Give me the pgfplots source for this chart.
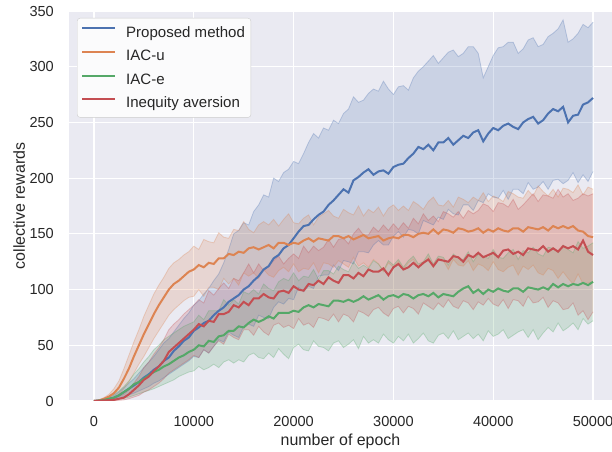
\documentclass[border=0pt]{standalone}
\usepackage{pgfplots}
\pgfplotsset{compat=1.18}
\usepackage{pgfplotstable}
\usepgfplotslibrary{fillbetween}
\usepackage{fontspec}
\setmainfont{Liberation Sans}
\definecolor{sbblue}{HTML}{4C72B0}
\definecolor{sborange}{HTML}{DD8452}
\definecolor{sbgreen}{HTML}{55A868}
\definecolor{sbred}{HTML}{C44E52}
\definecolor{bgc}{HTML}{EAEAF2}
\definecolor{tickc}{HTML}{262626}
\definecolor{legbg}{HTML}{FBFBFC}
\definecolor{legborder}{HTML}{CCCCCC}

\pgfplotstableread{
x m lo hi
0 0 0 0
500 0.5 0.2 1
1000 1 0.5 2
1500 2 1 3.5
2000 3 1.5 5
2500 5 2.5 8
3000 8 4 12
3500 11 5.5 16
4000 14 7 20
4500 17 9 25
5000 21 11 30
5500 24 13 35
6000 28 16 40
6500 31 18 46
7000 36 21 52
7500 39 24 56
8000 45 27 62
8500 49 30 68
9000 54 33 74
9500 57 36 79
10000 63 40 86
10500 66 39 90
11000 70 46 96
11500 72 43 101
12000 77 49 108
12500 81 55 114
13000 84 53 124
13500 89 62 136
14000 92 59 150
14500 95 57 153
15000 100 67 160
15500 103 69 158
16000 108 67 170
16500 112 77 176
17000 118 75 185
17500 121 74 183
18000 128 84 200
18500 131 89 197
19000 137 87 205
19500 140 92 208
20000 146 91 215
20500 152 102 213
21000 157 98 222
21500 158 103 232
22000 163 101 240
22500 167 112 236
23000 170 113 245
23500 176 113 243
24000 180 122 252
24500 185 117 249
25000 190 126 258
25500 187 125 262
26000 198 123 273
26500 201 134 268
27000 205 134 270
27500 208 133 276
28000 203 140 280
28500 206 144 278
29000 207 140 287
29500 204 140 280
30000 210 148 275
30500 212 152 282
31000 213 147 283
31500 218 154 279
32000 222 153 290
32500 228 150 296
33000 226 162 300
33500 230 160 305
34000 225 158 310
34500 232 165 303
35000 232 163 308
35500 236 172 313
36000 230 168 315
36500 234 167 309
37000 238 176 312
37500 236 176 318
38000 241 171 318
38500 243 180 312
39000 233 178 290
39500 240 186 300
40000 245 183 310
40500 243 182 317
41000 247 189 318
41500 249 181 322
42000 246 190 322
42500 244 190 312
43000 250 186 316
43500 253 196 324
44000 255 190 326
44500 249 192 318
45000 252 197 320
45500 258 190 327
46000 262 198 330
46500 260 199 334
47000 264 195 342
47500 250 198 322
48000 256 205 325
48500 257 196 330
49000 266 203 338
49500 268 197 335
50000 272 206 340
}\blueT

\pgfplotstableread{
x m lo hi
0 0 0 0
500 0.5 0.2 1
1000 2 1 3
1500 4 2 6
2000 7 3.5 11
2500 12 6 18
3000 20 11 29
3500 29 17 41
4000 40 25 53
4500 50 33 64
5000 60 40 76
5500 69 48 86
6000 78 56 96
6500 86 63 104
7000 93 70 111
7500 100 77 119
8000 105 82 124
8500 108 86 127
9000 112 90 131
9500 116 93 134
10000 118 94 139
10500 122 100 136
11000 120 94 145
11500 124 102 143
12000 123 102 142
12500 128 100 151
13000 128 110 147
13500 132 105 146
14000 131 110 154
14500 134 104 153
15000 133 115 161
15500 137 112 154
16000 138 115 151
16500 136 110 158
17000 138 118 161
17500 140 113 158
18000 137 111 163
18500 142 117 157
19000 142 120 163
19500 140 116 168
20000 142 123 160
20500 141 116 159
21000 144 119 164
21500 146 118 167
22000 143 124 158
22500 146 115 165
23000 145 124 168
23500 144 123 171
24000 148 120 166
24500 148 126 164
25000 146 123 172
25500 148 120 169
26000 145 129 167
26500 147 121 175
27000 149 124 166
27500 146 120 172
28000 147 127 169
28500 148 123 174
29000 144 116 166
29500 146 124 173
30000 147 120 176
30500 146 125 171
31000 149 118 175
31500 149 124 171
32000 147 127 179
32500 150 120 176
33000 151 123 172
33500 150 129 179
34000 154 120 183
34500 150 127 176
35000 154 126 175
35500 153 118 180
36000 151 127 174
36500 155 122 183
37000 154 121 181
37500 152 126 178
38000 153 117 183
38500 155 123 180
39000 151 121 187
39500 154 117 179
40000 152 125 184
40500 155 118 182
41000 153 116 179
41500 152 120 188
42000 155 122 186
42500 155 113 183
43000 152 121 182
43500 156 118 189
44000 155 122 184
44500 154 115 193
45000 156 113 188
45500 153 119 184
46000 157 117 190
46500 155 110 183
47000 157 116 191
47500 155 110 190
48000 157 105 187
48500 153 114 194
49000 152 105 185
49500 148 106 192
50000 147 107 190
}\orangeT

\pgfplotstableread{
x m lo hi
0 0 0 0
500 0.3 0.1 0.6
1000 1 0.3 2
1500 2 0.6 4
2000 3 1 6
2500 5 1.5 9
3000 8 2.5 13
3500 11 3.5 18
4000 15 5 24
4500 17 6.5 29
5000 20 8 35
5500 23 9.5 40
6000 26 11 46
6500 28 13 50
7000 31 15 55
7500 33 17 58
8000 36 19 61
8500 39 22 64
9000 41 24 67
9500 44 26 69
10000 46 27 71
10500 50 31 77
11000 49 28 73
11500 54 30 81
12000 53 33 81
12500 58 30 81
13000 59 35 91
13500 63 37 86
14000 63 34 91
14500 67 37 87
15000 66 35 98
15500 70 41 96
16000 73 43 100
16500 71 39 96
17000 73 38 105
17500 76 43 101
18000 74 39 99
18500 79 47 107
19000 79 42 110
19500 79 38 108
20000 81 48 115
20500 80 51 108
21000 84 46 112
21500 86 45 111
22000 84 54 118
22500 87 49 109
23000 86 48 117
23500 85 45 117
24000 90 52 114
24500 90 54 121
25000 89 48 118
25500 91 51 116
26000 89 55 125
26500 91 47 119
27000 94 58 122
27500 91 52 119
28000 93 55 126
28500 95 52 123
29000 91 60 117
29500 94 55 126
30000 95 52 122
30500 93 58 127
31000 96 54 120
31500 95 60 126
32000 92 52 130
32500 95 56 123
33000 96 61 125
33500 94 54 132
34000 97 52 123
34500 93 59 130
35000 96 61 129
35500 95 56 122
36000 94 63 132
36500 98 55 128
37000 101 58 127
37500 103 61 134
38000 97 56 125
38500 100 60 132
39000 96 54 130
39500 100 63 128
40000 98 58 136
40500 101 60 129
41000 99 64 128
41500 98 56 133
42000 101 59 136
42500 101 62 127
43000 98 64 135
43500 102 57 133
44000 101 64 138
44500 100 55 132
45000 102 61 130
45500 100 66 138
46000 105 62 137
46500 102 70 133
47000 105 63 140
47500 103 66 136
48000 105 70 133
48500 104 64 143
49000 106 74 137
49500 104 69 139
50000 107 72 142
}\greenT

\pgfplotstableread{
x m lo hi
0 0 0 0
500 0.2 0.1 0.4
1000 0.5 0.2 1
1500 0.8 0.3 1.5
2000 1 0.4 2
2500 2 0.6 4
3000 3 1 6
3500 6 2 10
4000 10 3.5 16
4500 14 5 22
5000 19 8 30
5500 22 10 35
6000 27 13 42
6500 31 16 48
7000 36 20 55
7500 44 25 64
8000 48 28 69
8500 52 31 73
9000 56 34 78
9500 60 37 82
10000 64 41 86
10500 69 39 91
11000 67 46 88
11500 72 43 99
12000 71 49 95
12500 78 54 101
13000 78 51 106
13500 80 60 101
14000 86 57 110
14500 84 55 108
15000 89 64 115
15500 86 64 123
16000 92 59 115
16500 92 67 123
17000 96 62 117
17500 93 59 121
18000 92 68 126
18500 98 70 130
19000 99 66 123
19500 97 68 128
20000 103 65 132
20500 100 74 128
21000 99 68 139
21500 105 70 133
22000 104 66 139
22500 108 75 135
23000 105 74 138
23500 111 72 145
24000 108 78 138
24500 106 71 145
25000 113 78 146
25500 113 76 141
26000 110 71 150
26500 115 81 155
27000 112 79 149
27500 118 76 149
28000 116 82 156
28500 116 84 152
29000 119 79 158
29500 113 76 153
30000 120 83 159
30500 123 85 154
31000 118 79 160
31500 120 85 155
32000 124 83 164
32500 120 78 159
33000 124 88 168
33500 127 85 162
34000 121 82 166
34500 127 88 161
35000 126 84 170
35500 125 91 168
36000 130 85 165
36500 129 83 170
37000 125 90 164
37500 131 88 171
38000 129 82 168
38500 133 89 171
39000 129 86 177
39500 131 92 175
40000 133 87 170
40500 129 85 178
41000 135 91 177
41500 136 83 174
42000 132 91 181
42500 134 90 172
43000 131 85 176
43500 137 94 181
44000 136 88 186
44500 135 89 179
45000 139 93 185
45500 134 84 184
46000 137 90 182
46500 134 88 190
47000 139 82 183
47500 137 83 186
48000 139 88 180
48500 136 77 182
49000 144 81 186
49500 134 73 184
50000 131 80 186
}\redT

\begin{document}
\begin{tikzpicture}
\begin{axis}[
  scale only axis, width=543bp, height=390bp,
  xmin=-2500, xmax=51900, ymin=0, ymax=350,
  axis background/.style={fill=bgc},
  axis line style={draw=none},
  grid=major, major grid style={white, line width=1.1bp},
  tick style={draw=none},
  xtick={0,10000,20000,30000,40000,50000},
  ytick={0,50,100,150,200,250,300,350},
  scaled x ticks=false,
  /pgf/number format/1000 sep={},
  /pgf/number format/assume math mode=true,
  ticklabel style={font=\fontsize{14.6}{17}\selectfont, text=tickc},
  xticklabel style={inner sep=0pt, anchor=north, yshift=-15.5bp},
  yticklabel style={inner sep=0pt, anchor=east, xshift=-15bp},
  xlabel={number of epoch}, ylabel={collective rewards},
  every axis x label/.style={at={(axis description cs:0.5,0)}, anchor=base, yshift=-44.5bp, font=\fontsize{16}{19}\selectfont, text=tickc},
  every axis y label/.style={at={(axis description cs:0,0.5)}, rotate=90, anchor=base, yshift=44bp, font=\fontsize{16}{19}\selectfont, text=tickc},
  legend style={at={(0,1)}, anchor=north west, xshift=8bp, yshift=-7bp, fill=legbg, draw=legborder, rounded corners=3bp, inner xsep=4bp, inner ysep=6bp, row sep=7.5bp, column sep=8bp, font=\fontsize{15.1}{17}\selectfont, text=tickc},
  legend cell align=left,
  legend image code/.code={\draw[#1, line width=2bp, sharp corners] (0bp,4bp) -- (33bp,4bp);},
]
% Proposed method
\addplot[sbblue, opacity=0.3, line width=0.8bp, name path=bU, forget plot] table[x=x,y=hi]{\blueT};
\addplot[sbblue, opacity=0.3, line width=0.8bp, name path=bL, forget plot] table[x=x,y=lo]{\blueT};
\addplot[fill=sbblue, fill opacity=0.2, draw=none, forget plot] fill between[of=bU and bL];
% IAC-u
\addplot[sborange, opacity=0.3, line width=0.8bp, name path=oU, forget plot] table[x=x,y=hi]{\orangeT};
\addplot[sborange, opacity=0.3, line width=0.8bp, name path=oL, forget plot] table[x=x,y=lo]{\orangeT};
\addplot[fill=sborange, fill opacity=0.2, draw=none, forget plot] fill between[of=oU and oL];
% IAC-e
\addplot[sbgreen, opacity=0.3, line width=0.8bp, name path=gU, forget plot] table[x=x,y=hi]{\greenT};
\addplot[sbgreen, opacity=0.3, line width=0.8bp, name path=gL, forget plot] table[x=x,y=lo]{\greenT};
\addplot[fill=sbgreen, fill opacity=0.2, draw=none, forget plot] fill between[of=gU and gL];
% Inequity aversion
\addplot[sbred, opacity=0.3, line width=0.8bp, name path=rU, forget plot] table[x=x,y=hi]{\redT};
\addplot[sbred, opacity=0.3, line width=0.8bp, name path=rL, forget plot] table[x=x,y=lo]{\redT};
\addplot[fill=sbred, fill opacity=0.2, draw=none, forget plot] fill between[of=rU and rL];
% means
\addplot[sbblue, line width=2bp] table[x=x,y=m]{\blueT};
\addlegendentry{Proposed method}
\addplot[sborange, line width=2bp] table[x=x,y=m]{\orangeT};
\addlegendentry{IAC-u}
\addplot[sbgreen, line width=2bp] table[x=x,y=m]{\greenT};
\addlegendentry{IAC-e}
\addplot[sbred, line width=2bp] table[x=x,y=m]{\redT};
\addlegendentry{Inequity aversion}
\end{axis}
\pgfresetboundingbox
\path[use as bounding box] ([xshift=-69bp,yshift=-51bp]current axis.south west) rectangle ([yshift=11bp]current axis.north east);
\end{tikzpicture}
\end{document}
